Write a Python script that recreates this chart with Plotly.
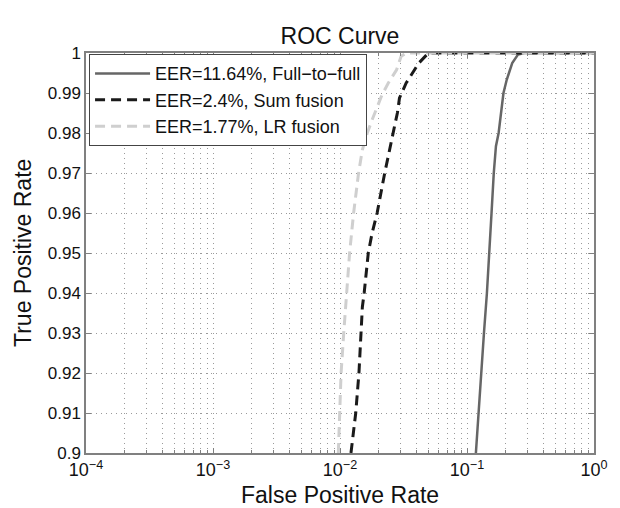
import plotly.graph_objects as go

# ---- data ----
tpr_full = [0.90, 0.91, 0.92, 0.93, 0.94, 0.95, 0.96, 0.97, 0.9767, 0.98, 0.99, 0.9933, 0.9975, 0.9996, 1.0, 1.0]
fpr_full = [0.1175, 0.123, 0.1297, 0.136, 0.1435, 0.1487, 0.156, 0.1625, 0.169, 0.1774, 0.1937, 0.2055, 0.227, 0.252, 0.284, 1.0]

tpr_sum = [0.90, 0.91, 0.92, 0.93, 0.9365, 0.94, 0.95, 0.955, 0.96, 0.97, 0.9758, 0.98, 0.985, 0.98875, 0.9925, 0.995, 0.9975, 1.0, 1.0]
fpr_sum = [0.0122, 0.0133, 0.0141, 0.0146, 0.0150, 0.0155, 0.0167, 0.0179, 0.0196, 0.0225, 0.0244, 0.0262, 0.0283, 0.0294, 0.0332, 0.0373, 0.0418, 0.0497, 1.0]

tpr_lr = [0.90, 0.91, 0.92, 0.93, 0.94, 0.95, 0.96, 0.97, 0.9758, 0.98, 0.9833, 0.9895, 0.9925, 0.9958, 0.9992, 1.0, 1.0]
fpr_lr = [0.0097, 0.0099, 0.0102, 0.0107, 0.0113, 0.0119, 0.0128, 0.0140, 0.0150, 0.0164, 0.0179, 0.0214, 0.0240, 0.0279, 0.0303, 0.0332, 1.0]

series_names = ["EER=11.64%, Full\u2212to\u2212full", "EER=2.4%, Sum fusion", "EER=1.77%, LR fusion"]

x_tickvals = [1e-4, 1e-3, 1e-2, 1e-1, 1]
x_ticktext = ["10<sup>\u22124</sup>", "10<sup>\u22123</sup>", "10<sup>\u22122</sup>", "10<sup>\u22121</sup>", "10<sup>0</sup>"]
y_tickvals = [0.90, 0.91, 0.92, 0.93, 0.94, 0.95, 0.96, 0.97, 0.98, 0.99, 1.0]
y_ticktext = ["0.9", "0.91", "0.92", "0.93", "0.94", "0.95", "0.96", "0.97", "0.98", "0.99", "1"]

title_text = "ROC Curve"
x_title = "False Positive Rate"
y_title = "True Positive Rate"

FONT = "Liberation Sans, Arial, Helvetica, sans-serif"
AXIS_COLOR = "#808080"
GRID_COLOR = "#9a9a9a"
GRID_DASH = "1px,4px"
TXT = "#111111"

fig = go.Figure()
fig.add_trace(go.Scatter(x=fpr_full, y=tpr_full, mode="lines", name=series_names[0],
                         line=dict(color="#666666", width=2.5, dash="solid")))
fig.add_trace(go.Scatter(x=fpr_sum, y=tpr_sum, mode="lines", name=series_names[1],
                         line=dict(color="#1a1a1a", width=3, dash="10px,6px")))
fig.add_trace(go.Scatter(x=fpr_lr, y=tpr_lr, mode="lines", name=series_names[2],
                         line=dict(color="#cfcfcf", width=3, dash="10px,6px")))

fig.update_layout(
    width=620, height=508,
    margin=dict(l=86, r=17, t=53, b=55),
    paper_bgcolor="white", plot_bgcolor="white",
    font=dict(family=FONT, color=TXT, size=16),
    title=dict(text=title_text, x=0.5, xref="paper", xanchor="center",
               y=1 - 36 / 508, yref="container", yanchor="middle",
               font=dict(size=23, family=FONT, color=TXT)),
    showlegend=True,
    legend=dict(x=0.006, y=0.997, xanchor="left", yanchor="top",
                bgcolor="white", bordercolor="#444444", borderwidth=1,
                font=dict(size=18, family=FONT, color=TXT),
                tracegroupgap=0, itemwidth=55),
    xaxis=dict(
        type="log", range=[-4, 0],
        tickvals=x_tickvals, ticktext=x_ticktext,
        tickfont=dict(size=18, family=FONT, color=TXT),
        showline=True, linecolor=AXIS_COLOR, linewidth=1.5, mirror="allticks",
        ticks="inside", ticklen=5, tickcolor=AXIS_COLOR,
        showgrid=True, gridcolor=GRID_COLOR, griddash=GRID_DASH, gridwidth=1,
        minor=dict(dtick="D1", showgrid=True, gridcolor=GRID_COLOR, griddash=GRID_DASH,
                   ticks="inside", ticklen=3, tickcolor=AXIS_COLOR),
        zeroline=False,
    ),
    yaxis=dict(
        range=[0.9, 1.0],
        tickvals=y_tickvals, ticktext=y_ticktext,
        tickfont=dict(size=17, family=FONT, color=TXT),
        showline=True, linecolor=AXIS_COLOR, linewidth=1.5, mirror="allticks",
        ticks="inside", ticklen=5, tickcolor=AXIS_COLOR,
        showgrid=True, gridcolor=GRID_COLOR, griddash=GRID_DASH, gridwidth=1,
        zeroline=False,
    ),
    annotations=[
        dict(text=x_title, xref="paper", yref="paper", x=0.5, y=0, xanchor="center", yanchor="middle",
             yshift=-42, showarrow=False, font=dict(size=23, family=FONT, color=TXT)),
        dict(text=y_title, xref="paper", yref="paper", x=0, y=0.5, xanchor="center", yanchor="middle",
             xshift=-63, textangle=-90, showarrow=False, font=dict(size=23, family=FONT, color=TXT)),
    ],
)

fig.write_html("out.html",
               config={"displayModeBar": False},
               post_script="document.body.style.margin='0';document.body.style.overflow='hidden';")
